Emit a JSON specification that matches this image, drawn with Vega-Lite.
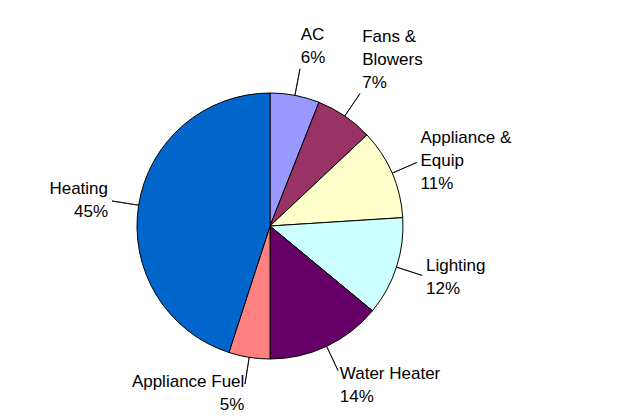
{
  "$schema": "https://vega.github.io/schema/vega-lite/v6.json",
  "width": 540,
  "height": 384,
  "autosize": {"type": "none"},
  "padding": {"left": 0, "top": 34, "right": 91, "bottom": 0},
  "background": "white",
  "view": {"stroke": null},
  "config": {"text": {"font": "Liberation Sans", "fontSize": 17, "lineHeight": 23, "lineBreak": "\n", "color": "#000000"}},
  "data": {
    "values": [
      {"order": 1, "category": "AC", "pct": 6, "label": "AC\n6%"},
      {"order": 2, "category": "Fans & Blowers", "pct": 7, "label": "Fans &\nBlowers\n7%"},
      {"order": 3, "category": "Appliance & Equip", "pct": 11, "label": "Appliance &\nEquip\n11%"},
      {"order": 4, "category": "Lighting", "pct": 12, "label": "Lighting\n12%"},
      {"order": 5, "category": "Water Heater", "pct": 14, "label": "Water Heater\n14%"},
      {"order": 6, "category": "Appliance Fuel", "pct": 5, "label": "Appliance Fuel\n5%"},
      {"order": 7, "category": "Heating", "pct": 45, "label": "Heating\n45%"}
    ]
  },
  "encoding": {
    "theta": {"field": "pct", "type": "quantitative", "stack": true},
    "order": {"field": "order", "type": "quantitative", "sort": "ascending"},
    "color": {
      "field": "category",
      "type": "nominal",
      "scale": {
        "domain": ["AC", "Fans & Blowers", "Appliance & Equip", "Lighting", "Water Heater", "Appliance Fuel", "Heating"],
        "range": ["#9999FF", "#993366", "#FFFFCC", "#CCFFFF", "#660066", "#FF8080", "#0066CC"]
      },
      "legend": null
    }
  },
  "layer": [
    {
      "mark": {"type": "arc", "outerRadius": 133, "stroke": "#000000", "strokeWidth": 1}
    },
    {
      "mark": {"type": "arc", "radius": 160, "radius2": 133, "padAngle": 3.2, "fillOpacity": 0, "stroke": "#000000", "strokeWidth": 0.8},
      "encoding": {"color": {"value": "transparent"}}
    },
    {
      "mark": {"type": "text", "radius": 164, "align": "left", "baseline": "bottom", "dy": -21},
      "encoding": {
        "text": {"condition": {"test": "datum.category === 'AC'", "field": "label"}, "value": ""},
        "color": {"value": "#000000"}
      }
    },
    {
      "mark": {"type": "text", "radius": 164, "align": "left", "baseline": "bottom", "dy": -44},
      "encoding": {
        "text": {"condition": {"test": "datum.category === 'Fans & Blowers'", "field": "label"}, "value": ""},
        "color": {"value": "#000000"}
      }
    },
    {
      "mark": {"type": "text", "radius": 164, "align": "left", "baseline": "middle", "dy": -23},
      "encoding": {
        "text": {"condition": {"test": "datum.category === 'Appliance & Equip'", "field": "label"}, "value": ""},
        "color": {"value": "#000000"}
      }
    },
    {
      "mark": {"type": "text", "radius": 164, "align": "left", "baseline": "middle", "dy": -11},
      "encoding": {
        "text": {"condition": {"test": "datum.category === 'Lighting'", "field": "label"}, "value": ""},
        "color": {"value": "#000000"}
      }
    },
    {
      "mark": {"type": "text", "radius": 164, "align": "left", "baseline": "middle", "dy": 0},
      "encoding": {
        "text": {"condition": {"test": "datum.category === 'Water Heater'", "field": "label"}, "value": ""},
        "color": {"value": "#000000"}
      }
    },
    {
      "mark": {"type": "text", "radius": 164, "align": "right", "baseline": "middle", "dy": -6},
      "encoding": {
        "text": {"condition": {"test": "datum.category === 'Appliance Fuel'", "field": "label"}, "value": ""},
        "color": {"value": "#000000"}
      }
    },
    {
      "mark": {"type": "text", "radius": 164, "align": "right", "baseline": "middle", "dy": -11},
      "encoding": {
        "text": {"condition": {"test": "datum.category === 'Heating'", "field": "label"}, "value": ""},
        "color": {"value": "#000000"}
      }
    }
  ]
}
